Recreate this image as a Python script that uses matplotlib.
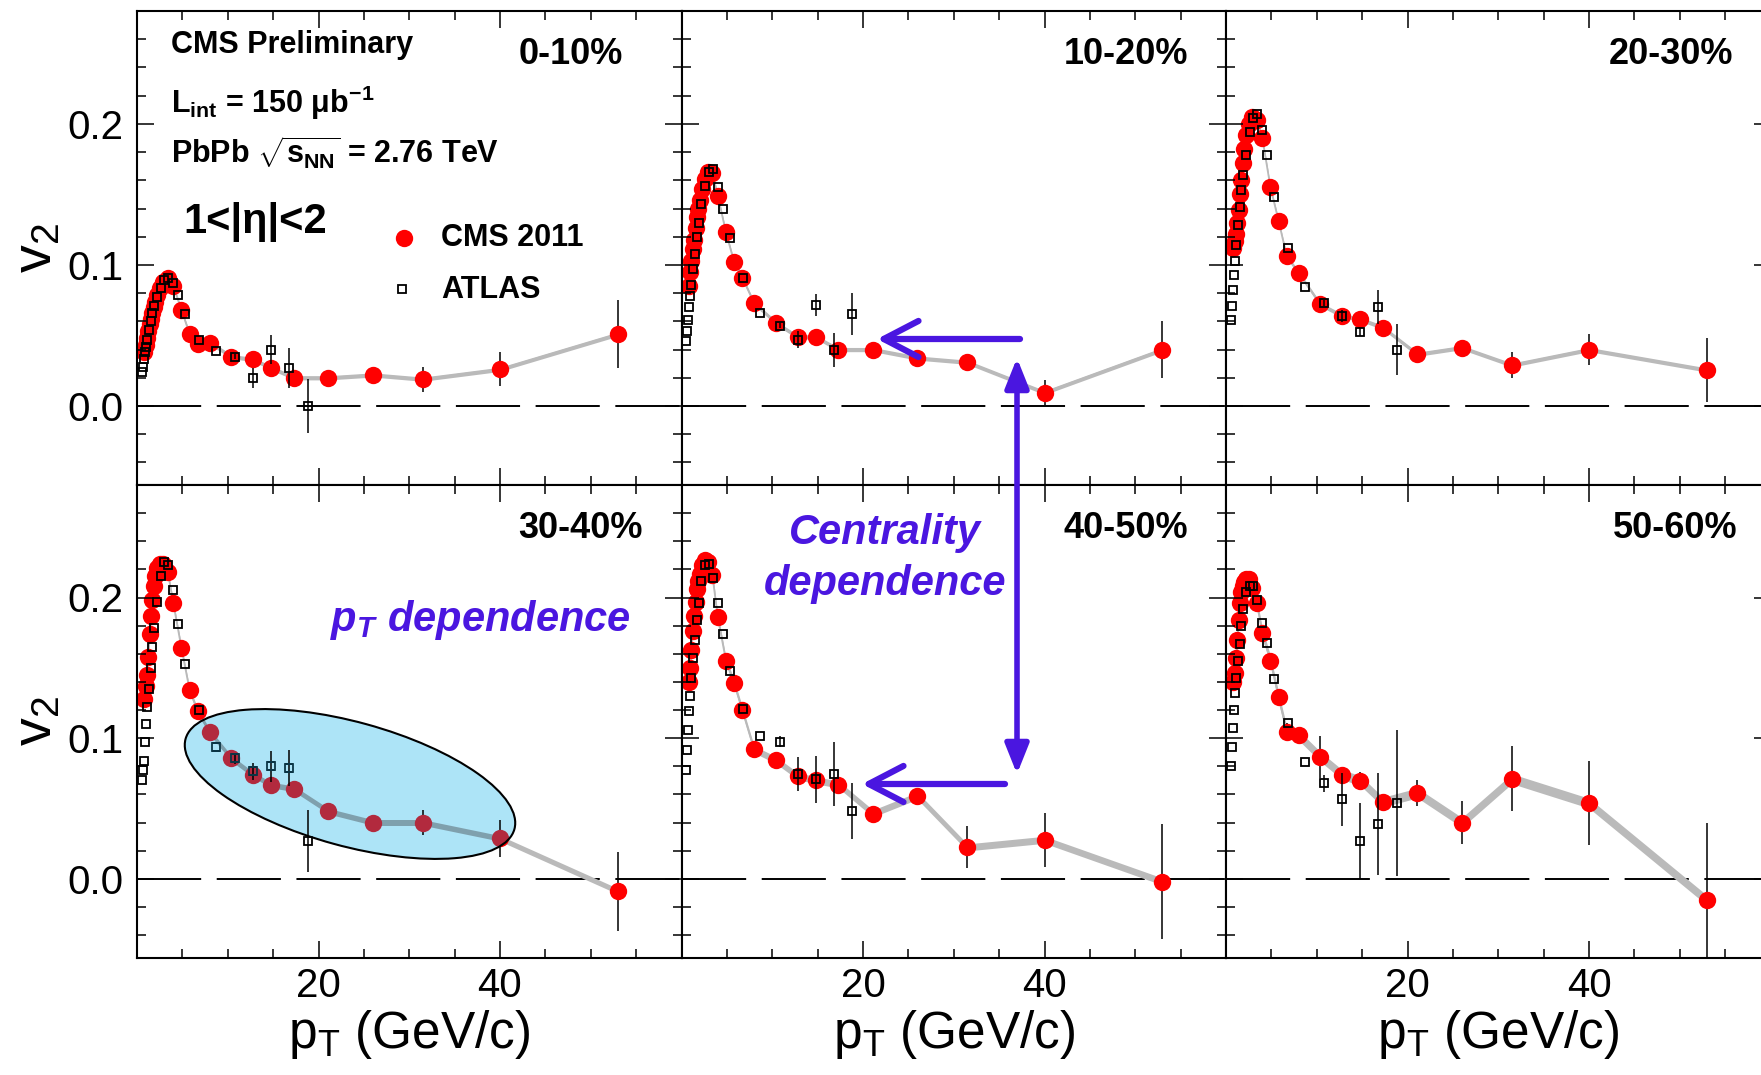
import matplotlib
matplotlib.use("Agg")
import matplotlib.pyplot as plt
from matplotlib.patches import Ellipse, FancyArrowPatch
from matplotlib.ticker import MultipleLocator, FuncFormatter
from matplotlib.transforms import IdentityTransform
import numpy as np

plt.rcParams["font.family"] = ["Liberation Sans", "DejaVu Sans"]
plt.rcParams["mathtext.fontset"] = "custom"
plt.rcParams["mathtext.rm"] = "Liberation Sans"
plt.rcParams["mathtext.it"] = "Liberation Sans:italic"
plt.rcParams["mathtext.bf"] = "Liberation Sans:bold"

W, H = 1761, 1075
purple = "#4a16e0"

centralities = ["0-10%", "10-20%", "20-30%", "30-40%", "40-50%", "50-60%"]

# CMS 2011 points (same pT bins in every centrality class)
cms_pt = [0.8, 0.95, 1.1, 1.25, 1.4, 1.55, 1.7, 1.85, 2.0, 2.25, 2.55, 2.9, 3.4,
          4.0, 4.9, 5.8, 6.7, 8.0, 10.4, 12.8, 14.8, 17.3, 21.1, 26.0, 31.5,
          40.0, 53.0]
cms_v2_0_10 = [0.038, 0.043, 0.048, 0.053, 0.058, 0.062, 0.066, 0.070, 0.074,
               0.079, 0.084, 0.088, 0.091, 0.085, 0.068, 0.051, 0.044, 0.045,
               0.035, 0.033, 0.027, 0.020, 0.020, 0.022, 0.019, 0.026, 0.051]
cms_v2_10_20 = [0.085, 0.095, 0.103, 0.111, 0.118, 0.126, 0.134, 0.140, 0.146,
                0.154, 0.161, 0.166, 0.165, 0.149, 0.123, 0.102, 0.091, 0.073,
                0.059, 0.049, 0.049, 0.040, 0.040, 0.034, 0.031, 0.0095, 0.040]
cms_v2_20_30 = [0.112, 0.117, 0.122, 0.130, 0.139, 0.150, 0.160, 0.172, 0.182,
                0.192, 0.200, 0.205, 0.203, 0.190, 0.155, 0.131, 0.106, 0.0945,
                0.072, 0.064, 0.0615, 0.0556, 0.0367, 0.0414, 0.029, 0.040, 0.0255]
cms_v2_30_40 = [0.128, 0.137, 0.145, 0.158, 0.174, 0.187, 0.198, 0.208, 0.215,
                0.221, 0.224, 0.224, 0.218, 0.196, 0.164, 0.134, 0.119, 0.1045,
                0.0856, 0.074, 0.0666, 0.064, 0.048, 0.040, 0.040, 0.0287, -0.0089]
cms_v2_40_50 = [0.140, 0.150, 0.163, 0.176, 0.187, 0.197, 0.206, 0.212, 0.217,
                0.223, 0.227, 0.225, 0.216, 0.186, 0.155, 0.139, 0.120, 0.092,
                0.0844, 0.073, 0.070, 0.067, 0.0464, 0.059, 0.0223, 0.0277, -0.002]
cms_v2_50_60 = [0.140, 0.146, 0.157, 0.1695, 0.184, 0.196, 0.204, 0.208, 0.211,
                0.213, 0.213, 0.207, 0.196, 0.175, 0.155, 0.129, 0.1045, 0.102,
                0.0868, 0.074, 0.0698, 0.0545, 0.061, 0.040, 0.0711, 0.0537, -0.0153]

# stat. errors of the last 11 CMS points (pT >= 6.7)
cms_err_0_10 = [0.002, 0.002, 0.003, 0.003, 0.003, 0.004, 0.003, 0.003, 0.009, 0.012, 0.024]
cms_err_10_20 = [0.002, 0.002, 0.003, 0.004, 0.003, 0.004, 0.003, 0.003, 0.004, 0.009, 0.020]
cms_err_20_30 = [0.002, 0.002, 0.003, 0.004, 0.003, 0.004, 0.003, 0.003, 0.009, 0.011, 0.023]
cms_err_30_40 = [0.002, 0.003, 0.004, 0.004, 0.004, 0.004, 0.004, 0.004, 0.009, 0.013, 0.028]
cms_err_40_50 = [0.002, 0.003, 0.004, 0.004, 0.004, 0.004, 0.004, 0.005, 0.015, 0.019, 0.041]
cms_err_50_60 = [0.006, 0.006, 0.015, 0.005, 0.006, 0.006, 0.009, 0.015, 0.023, 0.030, 0.055]

# half width of the grey systematic band
band_sys = [0.0015, 0.0015, 0.0015, 0.002, 0.0025, 0.0035]

# ATLAS points
atlas_pt = [0.55, 0.65, 0.75, 0.85, 0.95, 1.1, 1.3, 1.5, 1.7, 1.9, 2.2, 2.6,
            3.0, 3.45, 4.0, 4.55, 5.3, 6.8, 8.7, 10.8, 12.8, 14.8, 16.8, 18.8]
atlas_v2_0_10 = [0.024, 0.028, 0.033, 0.038, 0.042, 0.047, 0.054, 0.060, 0.066,
                 0.071, 0.077, 0.084, 0.089, 0.091, 0.087, 0.079, 0.065, 0.047,
                 0.039, 0.035, 0.020, 0.040, 0.027, 0.000]
atlas_v2_10_20 = [0.046, 0.053, 0.061, 0.070, 0.078, 0.086, 0.097, 0.108, 0.120,
                  0.130, 0.143, 0.156, 0.166, 0.168, 0.155, 0.140, 0.119, 0.091,
                  0.066, 0.057, 0.047, 0.0715, 0.040, 0.065]
atlas_v2_20_30 = [0.061, 0.071, 0.082, 0.093, 0.103, 0.114, 0.128, 0.141, 0.153,
                  0.164, 0.178, 0.194, 0.204, 0.207, 0.196, 0.178, 0.148, 0.112,
                  0.0845, 0.073, 0.0637, 0.0525, 0.070, 0.040]
atlas_v2_30_40 = [0.070, 0.077, 0.084, 0.097, 0.110, 0.122, 0.135, 0.150, 0.165,
                  0.178, 0.197, 0.215, 0.225, 0.223, 0.205, 0.181, 0.153, 0.120,
                  0.094, 0.0856, 0.0765, 0.080, 0.0787, 0.027]
atlas_v2_40_50 = [0.077, 0.0915, 0.106, 0.119, 0.130, 0.143, 0.157, 0.170, 0.184,
                  0.196, 0.212, 0.223, 0.224, 0.214, 0.196, 0.174, 0.148, 0.121,
                  0.1015, 0.0975, 0.0744, 0.0706, 0.0744, 0.0483]
atlas_v2_50_60 = [0.080, 0.094, 0.107, 0.120, 0.132, 0.143, 0.155, 0.167, 0.180,
                  0.192, 0.204, 0.2085, 0.2085, 0.198, 0.182, 0.168, 0.142, 0.111,
                  0.083, 0.068, 0.0564, 0.0268, 0.039, 0.0537]

# stat. errors of the last 5 ATLAS points (pT >= 10.8)
atlas_err_0_10 = [0.002, 0.007, 0.010, 0.014, 0.019]
atlas_err_10_20 = [0.002, 0.006, 0.008, 0.012, 0.015]
atlas_err_20_30 = [0.002, 0.004, 0.003, 0.012, 0.018]
atlas_err_30_40 = [0.004, 0.006, 0.011, 0.013, 0.022]
atlas_err_40_50 = [0.004, 0.012, 0.017, 0.023, 0.020]
atlas_err_50_60 = [0.006, 0.019, 0.027, 0.036, 0.052]

cms_v2 = [cms_v2_0_10, cms_v2_10_20, cms_v2_20_30, cms_v2_30_40, cms_v2_40_50, cms_v2_50_60]
cms_err = [cms_err_0_10, cms_err_10_20, cms_err_20_30, cms_err_30_40, cms_err_40_50, cms_err_50_60]
atlas_v2 = [atlas_v2_0_10, atlas_v2_10_20, atlas_v2_20_30, atlas_v2_30_40, atlas_v2_40_50, atlas_v2_50_60]
atlas_err = [atlas_err_0_10, atlas_err_10_20, atlas_err_20_30, atlas_err_30_40, atlas_err_40_50, atlas_err_50_60]

# label right edges in axes fraction
label_x = [0.8925, 0.930, 0.931, 0.929, 0.930, 0.940]


def draw_data(ax, i, red, square, grey, z, clip=None):
    pt = np.array(cms_pt)
    v2 = np.array(cms_v2[i])
    arts = []
    arts.append(ax.fill_between(pt, v2 - band_sys[i], v2 + band_sys[i],
                                color=grey, lw=0, zorder=z))
    arts += ax.plot(pt, v2, color=grey, lw=1.3, zorder=z)
    n = len(cms_err[i])
    eb = ax.errorbar(pt[-n:], v2[-n:], yerr=cms_err[i], fmt="none",
                     ecolor="black", elinewidth=1.1, capsize=0, zorder=z + 0.1)
    arts += list(eb.lines[2])
    arts += ax.plot(pt, v2, "o", color=red, ms=12.5, mew=0, zorder=z + 0.2)
    apt = np.array(atlas_pt)
    av2 = np.array(atlas_v2[i])
    n = len(atlas_err[i])
    eb = ax.errorbar(apt[-n:], av2[-n:], yerr=atlas_err[i], fmt="none",
                     ecolor="black", elinewidth=1.1, capsize=0, zorder=z + 0.3)
    arts += list(eb.lines[2])
    arts += ax.plot(apt, av2, "s", mfc="none", mec=square, ms=6.2, mew=1.3,
                    zorder=z + 0.4)
    if clip is not None:
        for a in arts:
            a.set_clip_path(clip)


fig = plt.figure(figsize=(W / 100, H / 100), dpi=100)

lefts = [137, 681.5, 1226]
panel_w = 544.5
rows = [(11, 485), (485, 957.5)]

axes = []
for i in range(6):
    r, c = divmod(i, 3)
    top, bottom = rows[r]
    ax = fig.add_axes([lefts[c] / W, 1 - bottom / H, panel_w / W, (bottom - top) / H])
    ax.set_xlim(0, 60)
    ax.set_ylim(-0.056, 0.28)
    ax.axhline(0, color="black", lw=1.4, dashes=(33, 8), zorder=0.5)
    draw_data(ax, i, "#ff0000", "black", "#bababa", 1)

    ax.xaxis.set_major_locator(MultipleLocator(20))
    ax.xaxis.set_minor_locator(MultipleLocator(5))
    ax.yaxis.set_major_locator(MultipleLocator(0.1))
    ax.yaxis.set_minor_locator(MultipleLocator(0.02))
    ax.tick_params(which="both", direction="in", top=True, right=True,
                   width=1.1, labelsize=29, colors="black")
    ax.tick_params(which="major", length=12)
    ax.tick_params(which="minor", length=6.5)
    ax.tick_params(axis="y", pad=10)
    ax.tick_params(axis="x", pad=7)
    for s in ax.spines.values():
        s.set_linewidth(1.5)
    if c == 0:
        ax.yaxis.set_major_formatter(FuncFormatter(lambda v, p: f"{abs(v):.1f}" if abs(v) < 1e-9 else f"{v:.1f}"))
    else:
        ax.set_yticklabels([])
    if r == 1:
        ax.xaxis.set_major_formatter(FuncFormatter(lambda v, p: f"{v:.0f}" if v in (20, 40) else ""))
    else:
        ax.set_xticklabels([])
    ax.text(label_x[i], 0.908, centralities[i], transform=ax.transAxes,
            ha="right", va="center", fontsize=26, fontweight="bold")
    axes.append(ax)

# highlight ellipse in 30-40% panel
ax4 = axes[3]
ell = Ellipse((350, H - 784), 341, 124, angle=-15.35, transform=IdentityTransform(),
              facecolor="#ade4f7", edgecolor="none", zorder=5)
ax4.add_patch(ell)
draw_data(ax4, 3, "#b22a3e", "#0b3545", "#7fa0ad", 6, clip=ell)
ell_edge = Ellipse((350, H - 784), 341, 124, angle=-15.35, transform=IdentityTransform(),
                   facecolor="none", edgecolor="black", lw=1.5, zorder=8)
ax4.add_patch(ell_edge)

# text in first panel
ax1 = axes[0]
bold = dict(transform=ax1.transAxes, fontweight="bold", ha="left", va="center")
ax1.text(0.0624, 0.928, "CMS Preliminary", fontsize=22, **bold)
ax1.text(0.0624, 0.806, "L$_\\mathregular{int}$ = 150 μb$^\\mathregular{-1}$", fontsize=22, **bold)
ax1.text(0.0624, 0.700, "PbPb $\\sqrt{\\mathregular{s_{NN}}}$ = 2.76 TeV", fontsize=22, **bold)
ax1.text(0.085, 0.555, "1<|η|<2", fontsize=30, **bold)
ax1.plot([0.490], [0.521], "o", color="#ff0000", ms=12.5, mew=0, transform=ax1.transAxes)
ax1.plot([0.487], [0.4135], "s", mfc="none", mec="black", ms=6.2, mew=1.3,
         transform=ax1.transAxes)
ax1.text(0.558, 0.521, "CMS 2011", fontsize=22, **bold)
ax1.text(0.558, 0.411, "ATLAS", fontsize=22, **bold)

# axis titles
for yc in (248, 721):
    fig.text(37 / W, 1 - yc / H, "v$_\\mathregular{2}$", rotation=90, ha="center",
             va="center", fontsize=40)
for xc in (409, 954, 1498):
    fig.text(xc / W, 1 - 1048 / H, "p$_\\mathregular{T}$ (GeV/c)", ha="center",
             va="baseline", fontsize=37)

# annotations
note = dict(color=purple, fontweight="bold", fontstyle="italic", ha="center",
            va="center", fontsize=30)
fig.text(480 / W, 1 - 620 / H, "$\\mathregular{p_T}$ dependence", **note)
fig.text(885 / W, 1 - 533 / H, "Centrality", **note)
fig.text(885 / W, 1 - 584 / H, "dependence", **note)

for y, x0, x1 in ((339, 1020, 877), (784, 1005, 862)):
    arr = FancyArrowPatch((x0, H - y), (x1, H - y), transform=IdentityTransform(),
                          arrowstyle="->,head_length=0.5,head_width=0.26",
                          mutation_scale=50, lw=4.5, color=purple,
                          shrinkA=0, shrinkB=0)
    fig.add_artist(arr)
arr = FancyArrowPatch((1017, H - 358), (1017, H - 774), transform=IdentityTransform(),
                      arrowstyle="<|-|>,head_length=0.45,head_width=0.18",
                      mutation_scale=40, lw=4, color=purple, shrinkA=0, shrinkB=0)
fig.add_artist(arr)

fig.savefig("out.png", dpi=100)
